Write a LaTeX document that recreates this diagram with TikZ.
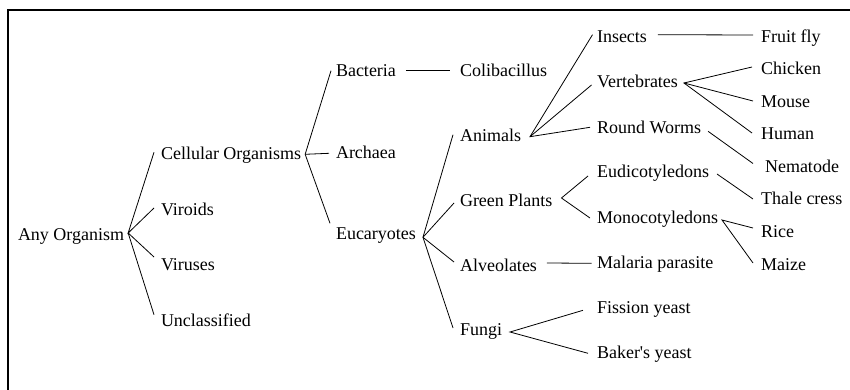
\documentclass[tikz,border=0pt]{standalone}
\usepackage{fontspec}
\setmainfont{Liberation Serif}[Ligatures=TeXOff]
\begin{document}
\begin{tikzpicture}[x=1pt,y=-1pt,
  lbl/.style={anchor=base west, inner sep=0pt, outer sep=0pt, font=\fontsize{18}{20}\selectfont},
  link/.style={line width=0.8pt, black},
  frame/.style={line width=1.7pt, black}]
\useasboundingbox (0,0) rectangle (850,390);
\draw[frame] (8,390) -- (8,10) -- (850,10);
% level 0
\node[lbl] (any) at (18,240) {Any Organism};
% level 1
\node[lbl] (cell) at (161,159.3) {Cellular Organisms};
\node[lbl] (viroids) at (161,215) {Viroids};
\node[lbl] (viruses) at (161,270) {Viruses};
\node[lbl] (unclass) at (161,326.7) {Unclassified};
% level 2
\node[lbl] (bact) at (336,76.7) {Bacteria};
\node[lbl] (arch) at (336,158.3) {Archaea};
\node[lbl] (euc) at (336,239.3) {Eucaryotes};
% level 3
\node[lbl] (coli) at (460,76.7) {Colibacillus};
\node[lbl] (anim) at (460,141.7) {Animals};
\node[lbl] (green) at (460,206) {Green Plants};
\node[lbl] (alv) at (460,271) {Alveolates};
\node[lbl] (fungi) at (460,335) {Fungi};
% level 4
\node[lbl] (insects) at (597,42.7) {Insects};
\node[lbl] (vert) at (597,88) {Vertebrates};
\node[lbl] (rw) at (597,133.3) {Round Worms};
\node[lbl] (eudi) at (597,178) {Eudicotyledons};
\node[lbl] (mono) at (597,223) {Monocotyledons};
\node[lbl] (malaria) at (597,268.3) {Malaria parasite};
\node[lbl] (fission) at (597,313.3) {Fission yeast};
\node[lbl] (bakers) at (597,358.3) {Baker's yeast};
% level 5
\node[lbl] (fruitfly) at (761,43) {Fruit fly};
\node[lbl] (chicken) at (761,75) {Chicken};
\node[lbl] (mouse) at (761,108) {Mouse};
\node[lbl] (human) at (761,140) {Human};
\node[lbl] (nematode) at (765,172.5) {Nematode};
\node[lbl] (thale) at (761,204) {Thale cress};
\node[lbl] (rice) at (761,237) {Rice};
\node[lbl] (maize) at (761,270) {Maize};
% connectors
\draw[link] ([shift={(-7,-7)}]cell.base west) -- ([shift={(4,-7)}]any.base east) -- ([shift={(-7,-7)}]viroids.base west);
\draw[link] ([shift={(4,-7)}]any.base east) -- ([shift={(-7,-13)}]viruses.base west);
\draw[link] ([shift={(4,-7)}]any.base east) -- ([shift={(-7,-12)}]unclass.base west);

\draw[link] ([shift={(-5,-6)}]bact.base west) -- ([shift={(4,-5)}]cell.base east) -- ([shift={(-6,-16)}]euc.base west);
\draw[link] ([shift={(4,-5)}]cell.base east) -- ([shift={(-7,-5)}]arch.base west);

\draw[link] ([shift={(10,-6)}]bact.base east) -- ([shift={(-10,-6)}]coli.base west);

\draw[link] ([shift={(-7,-7)}]anim.base west) -- ([shift={(7,-2)}]euc.base east) -- ([shift={(-7,-7)}]fungi.base west);
\draw[link] ([shift={(7,-2)}]euc.base east) -- ([shift={(-6,-3)}]green.base west);
\draw[link] ([shift={(7,-2)}]euc.base east) -- ([shift={(-6,-9)}]alv.base west);

\draw[link] ([shift={(-4.5,-8)}]insects.base west) -- ([shift={(9,-5)}]anim.base east) -- ([shift={(-7,-6)}]rw.base west);
\draw[link] ([shift={(9,-5)}]anim.base east) -- ([shift={(-5.5,-3)}]vert.base west);

\draw[link] ([shift={(-9,-2)}]eudi.base west) -- ([shift={(9,-8)}]green.base east) -- ([shift={(-7,-5)}]mono.base west);

\draw[link] ([shift={(10,-8)}]alv.base east) -- ([shift={(-5.5,-5)}]malaria.base west);

\draw[link] ([shift={(-14,-3)}]fission.base west) -- ([shift={(8,-3)}]fungi.base east) -- ([shift={(-9,-5)}]bakers.base west);

\draw[link] ([shift={(11,-8)}]insects.base east) -- ([shift={(-8,-8)}]fruitfly.base west);

\draw[link] ([shift={(-9,-8)}]chicken.base west) -- ([shift={(6,-5)}]vert.base east) -- ([shift={(-9,-7)}]human.base west);
\draw[link] ([shift={(6,-5)}]vert.base east) -- ([shift={(-8,-7)}]mouse.base west);

\draw[link] ([shift={(7,-2)}]rw.base east) -- ([shift={(-12,-9)}]nematode.base west);

\draw[link] ([shift={(8,-4)}]eudi.base east) -- ([shift={(-8,-5)}]thale.base west);

\draw[link] ([shift={(-8,-9)}]rice.base west) -- ([shift={(4,-3)}]mono.base east) -- ([shift={(-8,-7)}]maize.base west);
\end{tikzpicture}
\end{document}
